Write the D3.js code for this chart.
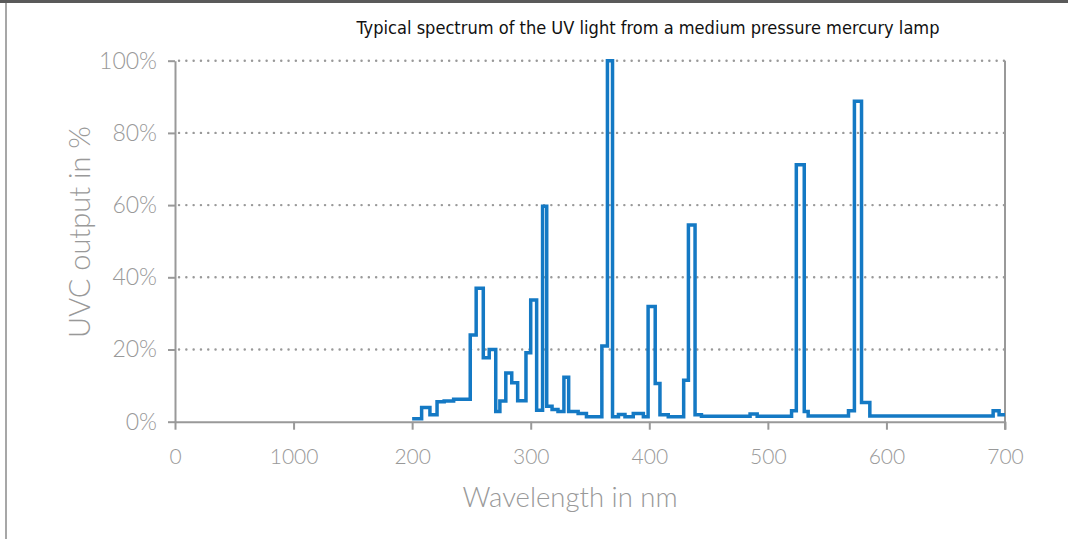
<!DOCTYPE html>
<html>
<head>
<meta charset="utf-8">
<script src="https://cdn.jsdelivr.net/npm/d3@7"></script>
<style>
  html, body { margin: 0; padding: 0; background: #fff; }
  svg { display: block; }
  .tick text { font-family: Lato, 'Open Sans', sans-serif; font-weight: 300; fill: #999; }
</style>
</head>
<body>
<svg id="chart" width="1068" height="539"></svg>
<script>
// step edges (nm) and output (%)
const wavelength = [200, 208, 215, 221, 227, 235, 249, 254, 260, 265, 270.5, 274, 279, 284, 289, 296,
  300, 305, 310, 313.5, 318, 323, 328, 332, 340, 347, 360, 364.7, 369, 374, 379.5, 386.5, 395,
  399, 405, 409, 416, 429, 433, 438.6, 444, 485, 491, 520, 524, 530.7, 534, 568, 573, 579, 586,
  690, 695, 700]
const output = [0.8, 3.9, 1.9, 5.5, 5.7, 6.2, 24, 37, 17.7, 20, 2.8, 5.7, 13.5, 10.8, 5.8, 19.1,
  33.7, 3.2, 59.7, 4.3, 3.4, 2.8, 12.3, 2.8, 2.3, 1.4, 21, 100, 1.4, 2, 1.4, 2.3, 1.4,
  31.9, 10.6, 1.9, 1.4, 11.5, 54.5, 1.9, 1.5, 2.1, 1.5, 3, 71.2, 2.8, 1.6, 3, 88.8, 5.3, 1.6,
  3, 1.9, 1.9]

const xTicks = [0, 100, 200, 300, 400, 500, 600, 700]
const xTickLabels = ['0', '1000', '200', '300', '400', '500', '600', '700']   // sic, as printed
const yTicks = [0, 20, 40, 60, 80, 100]

const TITLE = 'Typical spectrum of the UV light from a medium pressure mercury lamp'
const GRAY = '#999'

const svg = d3.select('#chart')

const x = d3.scaleLinear().domain([0, 700]).range([175, 1005])
const y = d3.scaleLinear().domain([0, 100]).range([421.7, 60.7])

// frame of the slide
svg.append('rect').attr('x', 0).attr('y', 0).attr('width', 1068).attr('height', 3).attr('fill', '#5a5a5a')
svg.append('line').attr('x1', 6).attr('x2', 6).attr('y1', 3).attr('y2', 539)
  .attr('stroke', '#8a8a8a').attr('stroke-width', 1.5)

// title
svg.append('text')
  .attr('x', 648).attr('y', 34)
  .attr('text-anchor', 'middle')
  .attr('font-family', "'Liberation Sans Narrow', 'DejaVu Sans Condensed', 'Open Sans', sans-serif")
  .attr('font-size', 18)
  .attr('textLength', 583).attr('lengthAdjust', 'spacingAndGlyphs')
  .attr('fill', '#111')
  .text(TITLE)

// dotted grid
svg.append('g')
  .selectAll('line')
  .data(yTicks.filter(d => d > 0))
  .join('line')
    .attr('x1', x(0) + 4).attr('x2', x(700))
    .attr('y1', d => y(d)).attr('y2', d => y(d))
    .attr('stroke', GRAY).attr('stroke-width', 2.4)
    .attr('stroke-linecap', 'round')
    .attr('stroke-dasharray', '0.1,7.2')

// right edge line
svg.append('line')
  .attr('x1', x(700)).attr('x2', x(700))
  .attr('y1', y(100)).attr('y2', y(0) + 8)
  .attr('stroke', GRAY).attr('stroke-width', 2)

// axes
const xAxis = svg.append('g')
  .attr('transform', 'translate(0,' + y(0) + ')')
  .call(d3.axisBottom(x).tickValues(xTicks).tickFormat((d, i) => xTickLabels[i])
    .tickSize(8).tickSizeOuter(0).tickPadding(19))
xAxis.selectAll('.tick text').attr('font-size', 21)

const yAxis = svg.append('g')
  .attr('transform', 'translate(' + x(0) + ',0)')
  .call(d3.axisLeft(y).tickValues(yTicks).tickFormat(d => d + '%')
    .tickSize(7).tickSizeOuter(0).tickPadding(11))
yAxis.selectAll('.tick text').attr('font-size', 23)

svg.selectAll('.domain, .tick line').attr('stroke', GRAY).attr('stroke-width', 2)

// axis titles
svg.append('text')
  .attr('x', 570).attr('y', 507)
  .attr('text-anchor', 'middle')
  .attr('font-family', "Lato, 'Open Sans', sans-serif").attr('font-weight', 300)
  .attr('font-size', 27.5).attr('fill', GRAY)
  .text('Wavelength in nm')

svg.append('text')
  .attr('transform', 'translate(90,232) rotate(-90)')
  .attr('text-anchor', 'middle')
  .attr('font-family', "Lato, 'Open Sans', sans-serif").attr('font-weight', 300)
  .attr('font-size', 29).attr('fill', GRAY)
  .text('UVC output in %')

// spectrum
const pts = wavelength.map((w, i) => [w, output[i]])
const line = d3.line()
  .x(d => x(d[0]))
  .y(d => y(d[1]))
  .curve(d3.curveStepAfter)

svg.append('path')
  .datum(pts)
  .attr('d', line)
  .attr('fill', 'none')
  .attr('stroke', '#1479c4')
  .attr('stroke-width', 3.5)
  .attr('stroke-linejoin', 'miter')
</script>
</body>
</html>
